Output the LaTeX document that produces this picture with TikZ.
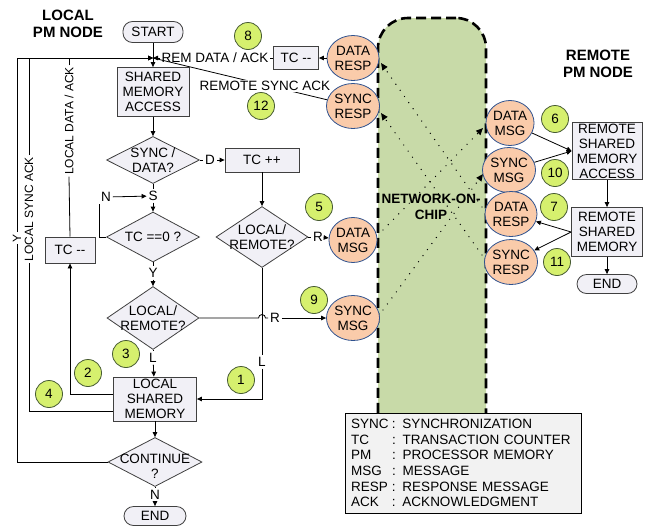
\documentclass[tikz,border=0pt]{standalone}
\usepackage{fontspec}
\setmainfont{Liberation Sans}
\usetikzlibrary{shapes.geometric,arrows.meta,calc}
\definecolor{boxfill}{RGB}{241,240,246}
\definecolor{boxline}{RGB}{64,64,64}
\definecolor{peach}{RGB}{250,203,170}
\definecolor{peachline}{RGB}{47,82,143}
\definecolor{lime}{RGB}{214,240,110}
\definecolor{limeline}{RGB}{70,90,50}
\definecolor{nocfill}{RGB}{200,218,168}
\definecolor{legfill}{RGB}{242,242,242}

\begin{document}
\begin{tikzpicture}[x=1pt,y=-1pt,line width=0.8pt,
  every node/.style={font=\fontsize{13.5}{15}\selectfont, align=center},
  box/.style={rectangle, draw=boxline, fill=boxfill, inner sep=0pt},
  term/.style={box, rounded corners=9.5pt},
  dia/.style={diamond, draw=boxline, fill=boxfill, inner sep=0pt},
  msg/.style={ellipse, draw=peachline, fill=peach, inner sep=0pt,
              minimum width=47pt, minimum height=45pt},
  num/.style={circle, draw=limeline, fill=lime, inner sep=0pt, minimum size=27pt},
  lbl/.style={inner sep=1.5pt},
  vlbl/.style={inner sep=1.5pt, rotate=90, font=\fontsize{12}{14}\selectfont},
  head/.style={font=\bfseries\fontsize{15}{17.5}\selectfont},
  arr/.style={-{Triangle[length=5pt,width=4.5pt]}},
  dotline/.style={line width=1.4pt, dash pattern=on 0pt off 7.5pt, line cap=round,
                  -{Triangle[length=7pt,width=6pt]}},
  legend/.style={draw=black, fill=legfill, inner sep=6pt, text width=224pt,
                 minimum height=100pt, align=left,
                 font=\fontsize{13.5}{15.6}\selectfont}
]
\useasboundingbox (0,0) rectangle (650,525);

% ---------- headings ----------
\node[head] (hdrL) at (68,24) {LOCAL\\PM NODE};
\node[head] (hdrR) at (598,64) {REMOTE\\PM NODE};

% ---------- network on chip ----------
\node[draw=black, fill=nocfill, line width=2.6pt, dash pattern=on 10pt off 5pt,
      rounded corners=30pt, minimum width=108pt, minimum height=494pt] (noc) at (432,265) {};

\coordinate (ra) at (482,207); \coordinate (la) at (381,63);
\coordinate (rb) at (482,255); \coordinate (lb) at (381,113);
\coordinate (lc) at (383,230); \coordinate (rc) at (483,128);
\coordinate (ld) at (383,310); \coordinate (rd) at (483,174);
\draw[dotline] (ra) -- (la);
\draw[dotline] (rb) -- (lb);
\draw[dotline] (lc) -- (rc);
\draw[dotline] (ld) -- (rd);

\node[font=\bfseries\fontsize{13.5}{15.5}\selectfont] (noct) at (431,207) {NETWORK-ON-\\CHIP};

% ---------- local node flow ----------
\node[term, minimum width=60pt, minimum height=21pt] (start) at (153,32) {START};
\coordinate (jn) at (153,58);
\node[box, minimum width=72pt, minimum height=49pt] (sma) at (153,92) {SHARED\\MEMORY\\ACCESS};
\node[dia, minimum width=93pt, minimum height=47pt,
      label={[name=sdt]center:SYNC /\\DATA?}] (sd) at (153,160) {};
\node[lbl] (dlab) at (210,160) {D};
\node[box, minimum width=74pt, minimum height=24pt] (tcpp) at (262,160) {TC ++};
\node[lbl] (slab) at (153,196) {S};
\node[lbl] (nlab) at (106,197) {N};
\node[dia, minimum width=93pt, minimum height=50pt,
      label={[name=tc0t]center:TC ==0 ?}] (tc0) at (153,237) {};
\node[lbl] (ylab) at (153,273) {Y};
\node[dia, minimum width=92pt, minimum height=63pt,
      label={[name=lr1t]center:LOCAL/\\REMOTE?}] (lr1) at (153,318) {};
\node[lbl] (llab) at (153,358) {L};
\node[box, minimum width=83pt, minimum height=44pt] (lsm) at (155,399) {LOCAL\\SHARED\\MEMORY};
\node[dia, minimum width=94pt, minimum height=49pt,
      label={[name=contt,yshift=-4pt]center:CONTINUE\\?}] (cont) at (155,462) {};
\node[lbl] (nlab2) at (155,495) {N};
\node[term, minimum width=62pt, minimum height=19pt] (endL) at (155,516) {END};

\node[dia, minimum width=92pt, minimum height=61pt,
      label={[name=lr2t]center:LOCAL/\\REMOTE?}] (lr2) at (262,237) {};
\node[lbl] (rlab) at (318,237) {R};
\node[lbl] (rlab2) at (275,318) {R};
\node[lbl] (llab2) at (262,362) {L};
\coordinate (hop) at (258.5,318);

\node[box, minimum width=50pt, minimum height=26pt] (tcl) at (70,250) {TC {-}{-}};
\node[box, minimum width=45pt, minimum height=23pt] (tcm) at (296,58) {TC {-}{-}};
\node[lbl] (remt) at (215,58) {REM DATA / ACK};

\node[vlbl] (ldack) at (69,121) {LOCAL DATA / ACK};
\node[vlbl] (lsack) at (29,209) {LOCAL SYNC ACK};
\node[vlbl] (ylabL) at (17,238) {Y};

% ---------- message / response circles ----------
\node[msg] (drespL) at (353,58) {DATA\\RESP};
\node[msg] (srespL) at (353,106) {SYNC\\RESP};
\node[msg] (dmsgL) at (353,240) {DATA\\MSG};
\node[msg] (smsgL) at (353,318) {SYNC\\MSG};
\node[msg] (dmsgR) at (510,123) {DATA\\MSG};
\node[msg] (smsgR) at (509,170) {SYNC\\MSG};
\node[msg] (drespR) at (511,214) {DATA\\RESP};
\node[msg] (srespR) at (511,262) {SYNC\\RESP};

% ---------- remote node ----------
\node[box, minimum width=70pt, minimum height=57pt] (rsma) at (607,151) {REMOTE\\SHARED\\MEMORY\\ACCESS};
\node[box, minimum width=71pt, minimum height=49pt] (rsm) at (607,232) {REMOTE\\SHARED\\MEMORY};
\node[term, minimum width=60pt, minimum height=19pt] (endR) at (607,284) {END};

% ---------- connectors: local flow ----------
\draw[arr] (start) -- (sma);
\draw[arr] (sma) -- (sd);
\draw (sd.south) -- (slab);
\draw[arr] (slab) -- (tc0);
\draw (sd.east) -- (dlab);
\draw[arr] (dlab) -- (tcpp);
\draw[arr] (tcpp) -- (lr2);
\draw (lr2.east) -- (rlab);
\draw[arr] (rlab) -- (dmsgL);
\draw (tc0.west) -| (nlab.south west);
\draw[arr] (nlab) -- (slab);
\draw (tc0.south) -- (ylab);
\draw[arr] (ylab) -- (lr1);
\draw (lr1.south) -- (llab);
\draw[arr] (llab) -- (lsm);
\draw (lr1.east) -- (hop) arc (180:360:3.5) -- (rlab2);
\draw[arr] (rlab2) -- (smsgL);
\draw (lr2.south) -- (llab2);
\draw[arr] (llab2) |- (lsm.east);
\draw[arr] (lsm) -- (cont);
\draw (cont.south) -- (nlab2);
\draw[arr] (nlab2) -- (endL);

% feedback loops on the left
\draw[arr] ([yshift=5pt]lsm.west) -| (tcl.south);
\draw (tcl.north) -- (ldack.west);
\draw[arr] (ldack.east) |- (jn);
\draw ([yshift=-12pt]lsm.west) -| (lsack.west);
\draw[arr] (lsack.east) |- (jn);
\draw (cont.west) -| (ylabL.west);
\draw[arr] (ylabL.east) |- (jn);

% responses coming back from the remote node
\draw[arr] (drespL) -- (tcm);
\draw (tcm) -- (remt);
\draw[arr] (remt) -- (jn);
\draw (srespL) -- (jn);
\node[fill=white, inner sep=1pt] (rsack) at (265,86) {REMOTE SYNC ACK};

% ---------- connectors: remote node ----------
\draw[arr] (dmsgR) -- (rsma.west);
\draw[arr] (smsgR) -- (rsma.west);
\draw[arr] (rsma) -- (rsm);
\draw[arr] (rsm.west) -- (drespR);
\draw[arr] (rsm.west) -- (srespR);
\draw[arr] (rsm) -- (endR);

% ---------- step numbers ----------
\node[num] (n1) at (241,380) {1};
\node[num] (n2) at (88,373) {2};
\node[num] (n3) at (126,354) {3};
\node[num] (n4) at (49,394) {4};
\node[num] (n5) at (319,207) {5};
\node[num] (n6) at (555,119) {6};
\node[num] (n7) at (554,207) {7};
\node[num] (n8) at (248,36) {8};
\node[num] (n9) at (314,300) {9};
\node[num] (n10) at (555,173) {10};
\node[num] (n11) at (557,262) {11};
\node[num] (n12) at (261,106) {12};

% ---------- legend ----------
\node[legend] (leg) at (463,463) {%
\makebox[41pt][l]{SYNC}: SYNCHRONIZATION\\
\makebox[41pt][l]{TC}: TRANSACTION COUNTER\\
\makebox[41pt][l]{PM}: PROCESSOR MEMORY\\
\makebox[41pt][l]{MSG}: MESSAGE\\
\makebox[41pt][l]{RESP}: RESPONSE MESSAGE\\
\makebox[41pt][l]{ACK}: ACKNOWLEDGMENT};
\end{tikzpicture}
\end{document}
